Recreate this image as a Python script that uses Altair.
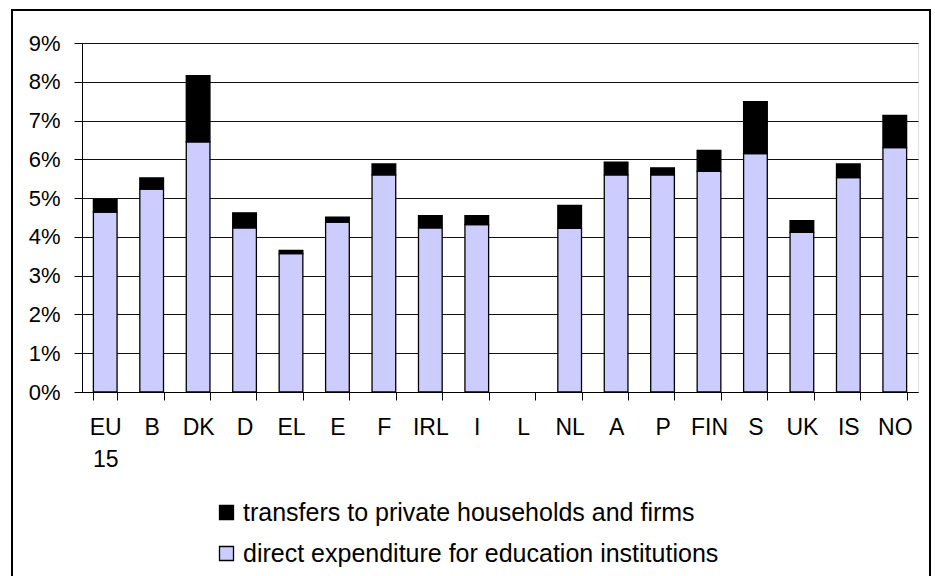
import altair as alt
import pandas as pd

# Public expenditure on education, % of GDP
countries = ["EU15", "B", "DK", "D", "EL", "E", "F", "IRL", "I", "L",
             "NL", "A", "P", "FIN", "S", "UK", "IS", "NO"]
direct = [4.64, 5.23, 6.45, 4.23, 3.57, 4.38, 5.60, 4.23, 4.32, None,
          4.22, 5.60, 5.60, 5.69, 6.15, 4.12, 5.53, 6.30]
transfers = [0.32, 0.29, 1.71, 0.39, 0.08, 0.13, 0.28, 0.32, 0.23, None,
             0.59, 0.33, 0.18, 0.54, 1.34, 0.30, 0.35, 0.83]

series_names = ["transfers to private households and firms",
                "direct expenditure for education institutions"]
series_colors = ["#000000", "#CCCCFF"]

rows = []
for c, d, t in zip(countries, direct, transfers):
    if d is None:
        continue
    rows.append({"country": c, "series": series_names[1], "value": d, "rank": 0})
    rows.append({"country": c, "series": series_names[0], "value": t, "rank": 1})
df = pd.DataFrame(rows)

FONT = "Liberation Sans"

bars = alt.Chart(df).mark_bar(stroke="black", strokeWidth=1.3).encode(
    x=alt.X("country:N", sort=countries,
            scale=alt.Scale(domain=countries, paddingInner=0.49, paddingOuter=0.245),
            axis=alt.Axis(title=None, labelAngle=0, tickBand="extent", grid=False,
                          tickSize=8, tickColor="black", domainColor="black",
                          labelFont=FONT, labelFontSize=23, labelColor="black",
                          labelPadding=16, labelLineHeight=32,
                          labelExpr="datum.value == 'EU15' ? ['EU', '15'] : datum.value")),
    y=alt.Y("value:Q", stack="zero",
            scale=alt.Scale(domain=[0, 9], nice=False),
            axis=alt.Axis(title=None, values=list(range(10)), grid=True,
                          gridColor="#111111", gridWidth=1,
                          tickSize=8, tickColor="black", domainColor="black",
                          labelFont=FONT, labelFontSize=22, labelColor="black",
                          labelPadding=14, labelExpr="datum.value + '%'")),
    color=alt.Color("series:N",
                    scale=alt.Scale(domain=series_names, range=series_colors),
                    legend=alt.Legend(title=None, orient="none", legendX=132, legendY=457,
                                      symbolType="square", symbolSize=196,
                                      symbolStrokeColor="black", symbolStrokeWidth=1.3,
                                      labelFont=FONT, labelFontSize=25, labelColor="black",
                                      labelOffset=4, labelLimit=0, rowPadding=15)),
    order=alt.Order("rank:Q"),
)

# frame around the whole figure
frame = alt.Chart(pd.DataFrame({"f": [0]})).mark_rect(
    fill=None, stroke="black", strokeWidth=2, clip=False
).encode(
    x=alt.value(-70), x2=alt.value(848),
    y=alt.value(-33), y2=alt.value(560),
)

chart = alt.layer(bars, frame).properties(
    width=836, height=349,
    autosize="none",
    padding={"left": 82, "top": 43, "right": 17, "bottom": 184},
).configure_view(stroke=None).configure(background="white")

chart.save("out.html", embed_options={"renderer": "svg", "actions": False})
